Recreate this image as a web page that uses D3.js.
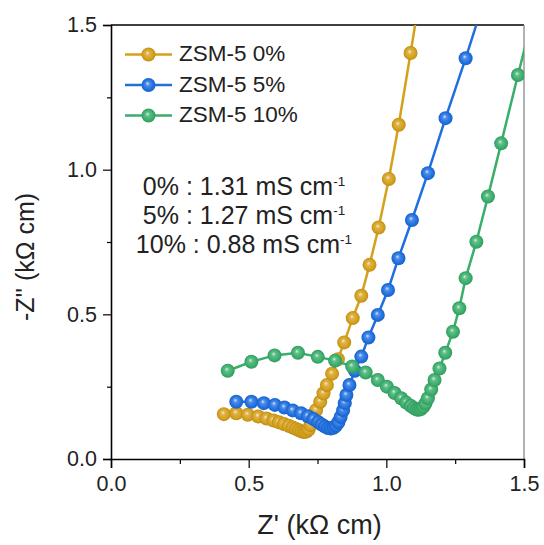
<!DOCTYPE html>
<html>
<head>
<meta charset="utf-8">
<script src="https://cdn.jsdelivr.net/npm/d3@7"></script>
<style>
  body { margin: 0; background: #fff; }
  svg { display: block; font-family: Arial, "Liberation Sans", sans-serif; }
</style>
</head>
<body>
<div id="chart"></div>
<script>
// Nyquist data (Z', -Z'' in kOhm cm)
const seriesNames = ['ZSM-5 0%', 'ZSM-5 5%', 'ZSM-5 10%'];
const seriesColors = ['#d5a01b', '#1f6fe0', '#3aae6b'];

const zsm0 = [
  [0.41, 0.155], [0.455, 0.158], [0.497, 0.153], [0.535, 0.147], [0.565, 0.140],
  [0.59, 0.133], [0.61, 0.127], [0.628, 0.121], [0.645, 0.115], [0.66, 0.109],
  [0.672, 0.104], [0.683, 0.099], [0.693, 0.095], [0.702, 0.093], [0.71, 0.095],
  [0.718, 0.102], [0.725, 0.117], [0.733, 0.14], [0.745, 0.169], [0.76, 0.198],
  [0.772, 0.227], [0.784, 0.256], [0.803, 0.295], [0.824, 0.345], [0.847, 0.403],
  [0.878, 0.487], [0.909, 0.564], [0.939, 0.671], [0.972, 0.80], [1.009, 0.968],
  [1.045, 1.155], [1.088, 1.403], [1.125, 1.62]
];
const zsm5 = [
  [0.455, 0.198], [0.51, 0.198], [0.555, 0.193], [0.595, 0.187], [0.63, 0.178],
  [0.66, 0.168], [0.69, 0.158], [0.715, 0.148], [0.735, 0.138], [0.752, 0.128],
  [0.765, 0.119], [0.777, 0.112], [0.788, 0.107], [0.798, 0.105], [0.808, 0.108],
  [0.817, 0.115], [0.826, 0.127], [0.834, 0.145], [0.843, 0.168], [0.849, 0.193],
  [0.855, 0.221], [0.866, 0.256], [0.886, 0.305], [0.909, 0.354], [0.935, 0.42],
  [0.969, 0.498], [1.006, 0.584], [1.044, 0.694], [1.093, 0.826], [1.151, 0.988],
  [1.215, 1.178], [1.288, 1.385], [1.35, 1.57]
];
const zsm10 = [
  [0.424, 0.305], [0.51, 0.336], [0.594, 0.358], [0.679, 0.367], [0.751, 0.353],
  [0.814, 0.34], [0.876, 0.32], [0.925, 0.299], [0.969, 0.273], [1.002, 0.25],
  [1.03, 0.228], [1.054, 0.21], [1.072, 0.195], [1.088, 0.184], [1.1, 0.176],
  [1.11, 0.171], [1.118, 0.17], [1.126, 0.173], [1.134, 0.18], [1.142, 0.192],
  [1.151, 0.21], [1.163, 0.24], [1.175, 0.273], [1.193, 0.313], [1.214, 0.367],
  [1.242, 0.44], [1.265, 0.521], [1.288, 0.625], [1.327, 0.751], [1.369, 0.907],
  [1.417, 1.091], [1.478, 1.327], [1.54, 1.56]
];
const seriesData = [zsm0, zsm5, zsm10];

const xTicks = [0, 0.5, 1.0, 1.5];
const yTicks = [0, 0.5, 1.0, 1.5];
const minorTicks = [0.25, 0.75, 1.25];
const conductivity = [
  ['0% : 1.31 mS cm', '-1'],
  ['5% : 1.27 mS cm', '-1'],
  ['10% : 0.88 mS cm', '-1']
];

const width = 544, height = 545;
const margin = { top: 25, right: 20, bottom: 86, left: 111 };
const innerW = width - margin.left - margin.right;
const innerH = height - margin.top - margin.bottom;

const svg = d3.select('#chart').append('svg')
  .attr('width', width)
  .attr('height', height);

const defs = svg.append('defs');
defs.append('clipPath').attr('id', 'plot-clip')
  .append('rect').attr('width', innerW).attr('height', innerH);

seriesColors.forEach((c, i) => {
  const g = defs.append('radialGradient')
    .attr('id', `ball-${i}`)
    .attr('cx', '50%').attr('cy', '50%').attr('r', '50%')
    .attr('fx', '42%').attr('fy', '38%');
  g.append('stop').attr('offset', '0%').attr('stop-color', d3.interpolateRgb(c, '#fff')(0.8));
  g.append('stop').attr('offset', '30%').attr('stop-color', d3.interpolateRgb(c, '#fff')(0.2));
  g.append('stop').attr('offset', '75%').attr('stop-color', c);
  g.append('stop').attr('offset', '100%').attr('stop-color', d3.interpolateRgb(c, '#000')(0.12));
});

const chart = svg.append('g')
  .attr('transform', `translate(${margin.left},${margin.top})`);

const x = d3.scaleLinear().domain([0, 1.5]).range([0, innerW]);
const y = d3.scaleLinear().domain([0, 1.5]).range([innerH, 0]);

// frame (top + right)
chart.append('line')
  .attr('x1', 0).attr('x2', innerW).attr('y1', 0).attr('y2', 0)
  .attr('stroke', '#000').attr('stroke-width', 1.3);
chart.append('line')
  .attr('x1', innerW).attr('x2', innerW).attr('y1', 0).attr('y2', innerH)
  .attr('stroke', '#888').attr('stroke-width', 1.3);

// axes
const xAxis = chart.append('g')
  .attr('transform', `translate(0,${innerH})`)
  .call(d3.axisBottom(x).tickValues(xTicks).tickFormat(d3.format('.1f')).tickSizeOuter(0).tickSize(9).tickPadding(8));
xAxis.append('g')
  .call(d3.axisBottom(x).tickValues(minorTicks).tickFormat('').tickSize(5).tickSizeOuter(0))
  .select('.domain').remove();

const yAxis = chart.append('g')
  .call(d3.axisLeft(y).tickValues(yTicks).tickFormat(d3.format('.1f')).tickSizeOuter(0).tickSize(8).tickPadding(6));
yAxis.append('g')
  .call(d3.axisLeft(y).tickValues(minorTicks).tickFormat('').tickSize(4).tickSizeOuter(0))
  .select('.domain').remove();

chart.selectAll('.domain').attr('stroke-width', 1.6);
chart.selectAll('.tick line').attr('stroke-width', 1.2);
chart.selectAll('.tick text')
  .attr('font-size', 21.5)
  .attr('font-family', 'Arial, "Liberation Sans", sans-serif')
  .attr('fill', '#222');

// axis titles
svg.append('text')
  .attr('x', margin.left + innerW / 2 + 2)
  .attr('y', 534)
  .attr('text-anchor', 'middle')
  .attr('font-size', 27)
  .attr('fill', '#222')
  .text("Z' (k\u03a9 cm)");

svg.append('text')
  .attr('transform', 'translate(34,257) rotate(-90)')
  .attr('text-anchor', 'middle')
  .attr('font-size', 25)
  .attr('fill', '#222')
  .text("-Z'' (k\u03a9 cm)");

// series
const line = d3.line().x(d => x(d[0])).y(d => y(d[1]));
const plot = chart.append('g').attr('clip-path', 'url(#plot-clip)');

seriesData.forEach((data, i) => {
  const g = plot.append('g').attr('class', `series-${i}`);
  g.append('path')
    .datum(data)
    .attr('d', line)
    .attr('fill', 'none')
    .attr('stroke', seriesColors[i])
    .attr('stroke-width', 2.5);
  g.selectAll('circle')
    .data(data)
    .enter().append('circle')
    .attr('cx', d => x(d[0]))
    .attr('cy', d => y(d[1]))
    .attr('r', 7)
    .attr('fill', `url(#ball-${i})`);
});

// legend
const legend = chart.append('g').attr('transform', 'translate(14,29.5)');
seriesNames.forEach((name, i) => {
  const row = legend.append('g').attr('transform', `translate(0,${i * 30.5})`);
  row.append('line')
    .attr('x1', 0).attr('x2', 47).attr('y1', 0).attr('y2', 0)
    .attr('stroke', seriesColors[i]).attr('stroke-width', 2.5);
  row.append('circle')
    .attr('cx', 23.5).attr('cy', 0).attr('r', 7)
    .attr('fill', `url(#ball-${i})`);
  row.append('text')
    .attr('x', 54).attr('y', 6.8)
    .attr('font-size', 22.5)
    .attr('fill', '#222')
    .text(name);
});

// conductivity annotation
const note = chart.append('text')
  .attr('text-anchor', 'middle')
  .attr('font-size', 25)
  .attr('fill', '#222');
conductivity.forEach((row, i) => {
  const t = note.append('tspan')
    .attr('x', 244 - margin.left)
    .attr('y', 195 - margin.top + i * 29.2);
  t.append('tspan').text(row[0]);
  t.append('tspan').attr('font-size', 13.5).attr('dy', -9.5).text(row[1]);
});
</script>
</body>
</html>
